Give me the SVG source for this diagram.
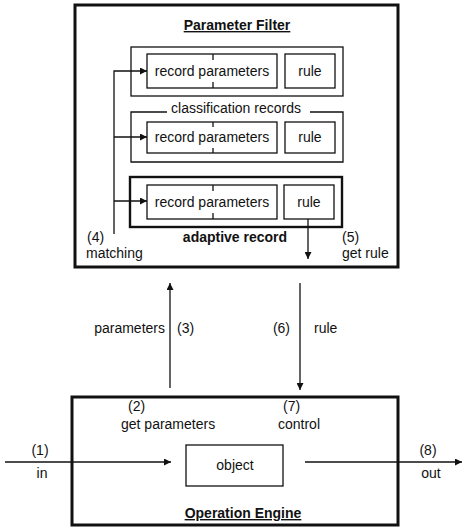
<svg xmlns="http://www.w3.org/2000/svg" width="462" height="527" viewBox="0 0 462 527">
<style>
text{font-family:"Liberation Sans",Arial,sans-serif;font-size:14px;fill:#111}
.b{font-weight:bold}
.u{text-decoration:underline}
.m{text-anchor:middle}
.e{text-anchor:end}
.box{fill:none;stroke:#111;stroke-width:1.3}
.thick{fill:none;stroke:#111;stroke-width:3}
.mid{fill:none;stroke:#111;stroke-width:2.4}
.ln{fill:none;stroke:#111;stroke-width:1.3}
</style>
<defs>
<marker id="ah" viewBox="0 0 10 10" refX="10" refY="5" markerWidth="9" markerHeight="7" markerUnits="userSpaceOnUse" orient="auto">
<path d="M0,0 L10,5 L0,10 Z" fill="#111"/>
</marker>
</defs>
<rect width="462" height="527" fill="#fff"/>

<g id="parameter-filter">
<rect class="thick" x="75" y="5" width="323" height="262"/>
<text class="b u m" x="237" y="30">Parameter Filter</text>
</g>

<g id="record1">
<rect class="box" x="131" y="47" width="212" height="49"/>
<rect class="box" x="147" y="54" width="130" height="34"/>
<line class="ln" x1="213" y1="54" x2="213" y2="60"/>
<line class="ln" x1="213" y1="82" x2="213" y2="88"/>
<text class="m" x="212" y="76">record parameters</text>
<rect class="box" x="285" y="54" width="50" height="34"/>
<text class="m" x="310" y="76">rule</text>
</g>

<g id="record2">
<path class="box" d="M167,112 H131 V162 H343 V112 H310"/>
<text class="m" x="236" y="113">classification records</text>
<rect class="box" x="147" y="122" width="130" height="31"/>
<line class="ln" x1="213" y1="122" x2="213" y2="127"/>
<line class="ln" x1="213" y1="148" x2="213" y2="153"/>
<text class="m" x="212" y="142">record parameters</text>
<rect class="box" x="285" y="122" width="50" height="31"/>
<text class="m" x="310" y="142">rule</text>
</g>

<g id="adaptive-record">
<rect class="mid" x="130" y="177" width="212" height="50"/>
<rect class="box" x="147" y="185" width="130" height="34"/>
<line class="ln" x1="213" y1="185" x2="213" y2="191"/>
<line class="ln" x1="213" y1="213" x2="213" y2="219"/>
<text class="m" x="212" y="207">record parameters</text>
<rect class="box" x="284" y="185" width="50" height="34"/>
<text class="m" x="309" y="207">rule</text>
<text class="b m" x="235" y="242">adaptive record</text>
</g>

<g id="operation-engine">
<rect class="thick" x="72" y="397" width="326" height="128"/>
<text class="b u m" x="243" y="518">Operation Engine</text>
</g>

<g id="object">
<rect class="box" x="186" y="445" width="97" height="41"/>
<text class="m" x="235" y="470">object</text>
</g>

<g id="connectors">
<path class="ln" d="M114,234 V71 H147" marker-end="url(#ah)"/>
<path class="ln" d="M114,137 H147" marker-end="url(#ah)"/>
<path class="ln" d="M114,201 H147" marker-end="url(#ah)"/>
<path class="ln" d="M308,219 V259" marker-end="url(#ah)"/>
<path class="ln" d="M170,388 V283" marker-end="url(#ah)"/>
<path class="ln" d="M300,283 V390" marker-end="url(#ah)"/>
<path class="ln" d="M5,462 H171" marker-end="url(#ah)"/>
<path class="ln" d="M305,462 H462" marker-end="url(#ah)"/>
</g>

<g id="labels">
<text x="87" y="242">(4)</text>
<text x="86" y="258">matching</text>
<text x="342" y="242">(5)</text>
<text x="342" y="258">get rule</text>
<text class="e" x="165" y="333">parameters</text>
<text x="177" y="333">(3)</text>
<text class="e" x="290" y="333">(6)</text>
<text x="314" y="333">rule</text>
<text x="128" y="411">(2)</text>
<text x="121" y="429">get parameters</text>
<text x="283" y="411">(7)</text>
<text x="278" y="429">control</text>
<text class="m" x="40" y="455">(1)</text>
<text class="m" x="42" y="478">in</text>
<text class="m" x="428" y="455">(8)</text>
<text class="m" x="431" y="478">out</text>
</g>
</svg>
